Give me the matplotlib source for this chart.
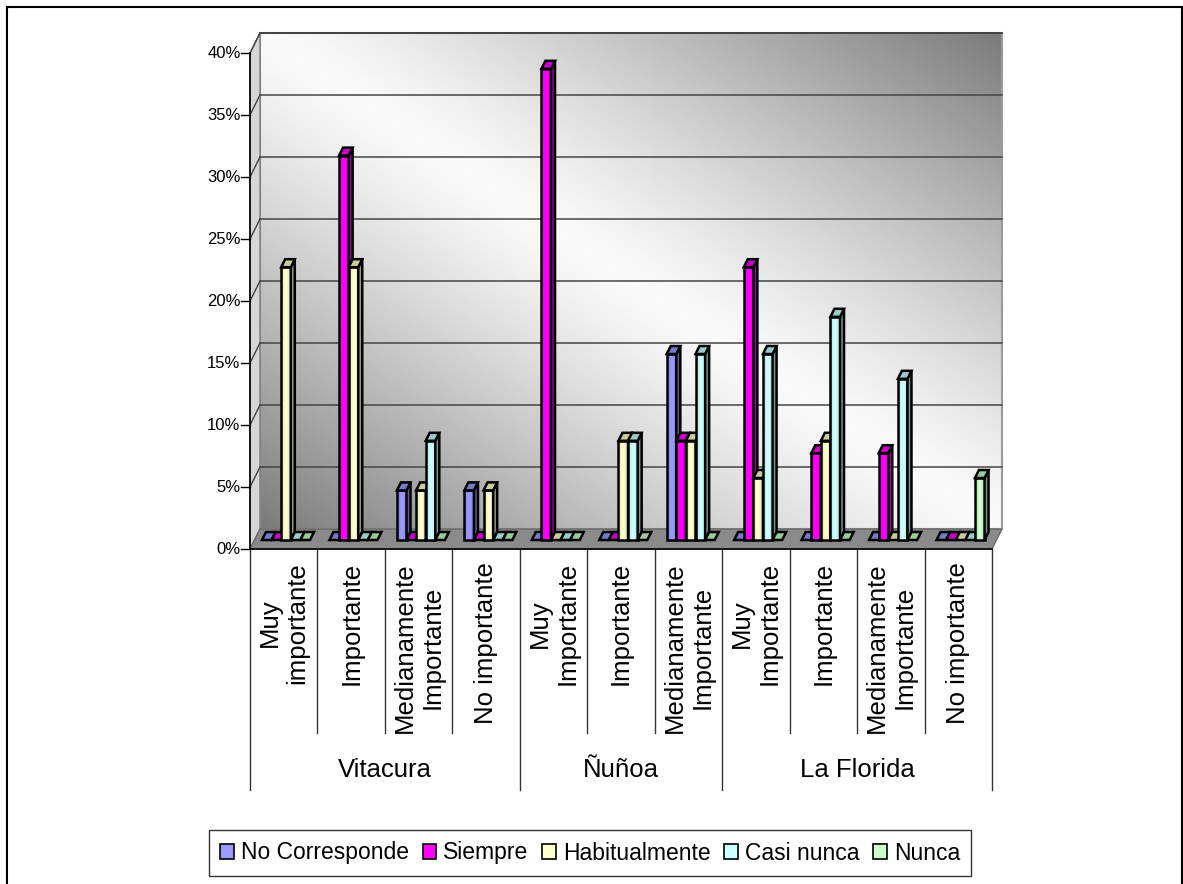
import numpy as np
import matplotlib.pyplot as plt
from matplotlib.colors import to_rgb
from matplotlib.patches import Polygon, Rectangle, Patch

# data (percent)
groups = ["Vitacura", "Ñuñoa", "La Florida"]
group_sizes = [4, 3, 4]
categories = ["Muy\nimportante", "Importante", "Medianamente\nImportante", "No importante",
              "Muy\nImportante", "Importante", "Medianamente\nImportante",
              "Muy\nImportante", "Importante", "Medianamente\nImportante", "No importante"]
series = ["No Corresponde", "Siempre", "Habitualmente", "Casi nunca", "Nunca"]

no_corresponde = [0, 0, 4, 4, 0, 0, 15, 0, 0, 0, 0]
siempre = [0, 31, 0, 0, 38, 0, 8, 22, 7, 7, 0]
habitualmente = [22, 22, 4, 4, 0, 8, 8, 5, 8, 0, 0]
casi_nunca = [0, 0, 8, 0, 0, 8, 15, 15, 18, 13, 0]
nunca = [0, 0, 0, 0, 0, 0, 0, 0, 0, 0, 5]
values = [no_corresponde, siempre, habitualmente, casi_nunca, nunca]

front_col = ['#9999ff', '#ff00ff', '#ffffcc', '#ccffff', '#ccffcc']
top_col = ['#7777cc', '#cc00cc', '#cccc99', '#99cccc', '#99cc99']
side_col = ['#5c5c99', '#990099', '#999973', '#739999', '#739973']

W, H = 1183, 884
fig = plt.figure(figsize=(W / 100, H / 100), dpi=100)
plt.rcParams['font.family'] = ['Liberation Sans', 'DejaVu Sans']

ncat = len(categories)
ax = fig.add_axes([250 / W, (H - 549) / H, 742 / W, 496 / H])

# pixel -> data scale
PXX = 742 / ncat
PXY = 496 / 40
dx, dy = 10 / PXX, 20 / PXY          # depth of the 3d box
mx, my = 4.5 / PXX, 9 / PXY          # bars sit at mid depth
bx, by = 4 / PXX, 8 / PXY            # depth of a bar
bw = 9.6 / PXX
b0 = 7.5 / PXX

# back wall gradient
xx, yy = np.meshgrid(np.linspace(0, 1, 300), np.linspace(0, 1, 300))
g = 0.98 - 0.5 * np.abs(xx - yy) ** 1.2
ax.imshow(g, cmap='gray', vmin=0, vmax=1, extent=(dx, ncat + dx, dy, 40 + dy),
          origin='upper', aspect='auto', interpolation='bilinear', zorder=0, clip_on=False)
ax.add_patch(Rectangle((dx, dy), ncat, 40, fill=False, ec='#9a9a9a', lw=1.5, zorder=1, clip_on=False))

# side wall and floor
ax.add_patch(Polygon([(0, 0), (0, 40), (dx, 40 + dy), (dx, dy)], closed=True,
                     fc='#d6d6d6', ec='#7a7a7a', lw=1, zorder=1, clip_on=False))
ax.add_patch(Polygon([(0, 0), (ncat, 0), (ncat + dx, dy), (dx, dy)], closed=True,
                     fc='#8a8a8a', ec='#6a6a6a', lw=1, zorder=1, clip_on=False))

# gridlines
for v in range(5, 45, 5):
    ax.plot([dx, ncat + dx], [v + dy, v + dy], color='#2a2a2a' if v == 40 else '#444444',
            lw=1.1, zorder=2, clip_on=False)
    ax.plot([0, dx], [v, v + dy], color='#444444', lw=1, zorder=2, clip_on=False)

# value axis
ax.plot([0, 0], [0, 40], color='black', lw=1.2, zorder=5, clip_on=False)
for v in range(0, 45, 5):
    ax.plot([-9 / PXX, 0], [v, v], color='black', lw=1, zorder=5, clip_on=False)
    ax.text(-9.5 / PXX, v, f"{v}%", ha='right', va='center', fontsize=12)

# bars, shaded fronts (darker at the edges)
shade = np.linspace(-1, 1, 24)
shade = 1 - 0.22 * np.abs(shade) ** 2
for k in range(ncat):
    for j in range(len(series)):
        v = values[j][k]
        x0 = k + b0 + j * bw + mx
        top = v + my
        zb = 10 + k * 0.1 + j * 0.01
        kw = dict(ec='black', lw=1.8, joinstyle='miter', clip_on=False)
        if v > 0:
            rgb = np.array(to_rgb(front_col[j]))
            img = (shade[:, None] * rgb[None, :])[None, :, :]
            ax.imshow(img, extent=(x0, x0 + bw, my, top), aspect='auto',
                      interpolation='bilinear', zorder=zb, clip_on=False)
            ax.add_patch(Rectangle((x0, my), bw, v, fill=False, zorder=zb + 0.001, **kw))
            ax.add_patch(Polygon([(x0 + bw, my), (x0 + bw + bx, my + by),
                                  (x0 + bw + bx, top + by), (x0 + bw, top)],
                                 closed=True, fc=side_col[j], zorder=zb + 0.002, **kw))
        ax.add_patch(Polygon([(x0, top), (x0 + bw, top), (x0 + bw + bx, top + by),
                              (x0 + bx, top + by)], closed=True, fc=top_col[j],
                             zorder=zb + 0.003, **kw))

# category axis
ax.plot([0, ncat], [0, 0], color='black', lw=1.2, zorder=6, clip_on=False)
bounds = np.cumsum([0] + group_sizes)
for k in range(ncat + 1):
    low = -19.4 if k in bounds else -14.84
    ax.plot([k, k], [0, low], color='#333333', lw=1, zorder=5, clip_on=False)
for k, lab in enumerate(categories):
    ax.text(k + 0.5, -1.05, lab, rotation=90, ha='center', va='top',
            multialignment='center', linespacing=1.2, fontsize=18.5)
for i, grp in enumerate(groups):
    ax.text((bounds[i] + bounds[i + 1]) / 2, -17.8, grp, ha='center', va='center', fontsize=18.5)

ax.set_xlim(0, ncat)
ax.set_ylim(0, 40)
ax.axis('off')

# legend
handles = [Patch(fc=front_col[j], ec='black', lw=1.2) for j in range(len(series))]
leg = fig.legend(handles, series, loc='center', bbox_to_anchor=(590 / W, (H - 853) / H),
                 ncol=5, fancybox=False, edgecolor='black', fontsize=16.5,
                 handlelength=0.6, handleheight=0.6, handletextpad=0.3,
                 columnspacing=0.6, borderpad=0.5, borderaxespad=0)
leg.get_frame().set_linewidth(1)

# outer frame
fig.add_artist(Rectangle((7 / W, -0.01), (1182 - 7) / W, (H - 7) / H + 0.01,
                         transform=fig.transFigure, fill=False, ec='black', lw=1.5))

fig.savefig("out.png", dpi=100)
